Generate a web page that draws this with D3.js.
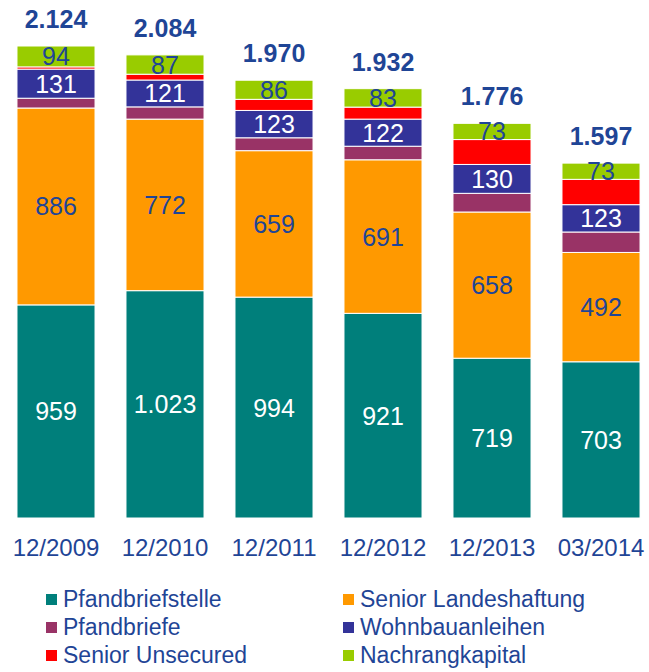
<!DOCTYPE html>
<html>
<head>
<meta charset="utf-8">
<script src="https://cdn.jsdelivr.net/npm/d3@7"></script>
<style>
	body { margin: 0; background: #fff; }
	text { font-family: "Liberation Sans", Arial, sans-serif; }
</style>
</head>
<body>
<script>

// Categories (x axis)
var categories = ["12/2009", "12/2010", "12/2011", "12/2012", "12/2013", "03/2014"];

// Series values, bottom to top of the stack
var pfandbriefstelle    = [959, 1023, 994, 921, 719, 703];
var seniorLandeshaftung = [886, 772, 659, 691, 658, 492];
var pfandbriefe         = [44, 55, 58, 61, 84, 92];
var wohnbauanleihen     = [131, 121, 123, 122, 130, 123];
var seniorUnsecured     = [10, 26, 50, 54, 112, 114];
var nachrangkapital     = [94, 87, 86, 83, 73, 73];

var seriesNames = ["Pfandbriefstelle", "Senior Landeshaftung", "Pfandbriefe",
	"Wohnbauanleihen", "Senior Unsecured", "Nachrangkapital"];
var seriesValues = [pfandbriefstelle, seniorLandeshaftung, pfandbriefe,
	wohnbauanleihen, seniorUnsecured, nachrangkapital];

// legend layout order (two columns)
var legendOrder = ["Pfandbriefstelle", "Senior Landeshaftung", "Pfandbriefe",
	"Wohnbauanleihen", "Senior Unsecured", "Nachrangkapital"];


const width = 649;
const height = 672;
const TEXT_BLUE = "#1f4596";

var colors = {
	"Pfandbriefstelle": "#007f7b",
	"Senior Landeshaftung": "#ff9900",
	"Pfandbriefe": "#993366",
	"Wohnbauanleihen": "#333399",
	"Senior Unsecured": "#ff0000",
	"Nachrangkapital": "#99cc00"
};

// which segments get a value label and in which colour
var labelColors = {
	"Pfandbriefstelle": "#ffffff",
	"Senior Landeshaftung": TEXT_BLUE,
	"Wohnbauanleihen": "#ffffff",
	"Nachrangkapital": TEXT_BLUE
};

var de = d3.formatLocale({ decimal: ",", thousands: ".", grouping: [3], currency: ["", " €"] });
var fmt = de.format(",d");

// build table for d3.stack
var table = categories.map(function(c, i) {
	var row = { category: c };
	seriesNames.forEach(function(name, k) { row[name] = seriesValues[k][i]; });
	return row;
});

var stacked = d3.stack().keys(seriesNames)(table);

var svg = d3.select("body")
	.append("svg")
	.attr("width", width)
	.attr("height", height);

var xScale = d3.scaleBand()
	.domain(categories)
	.range([1.5, 655.5])
	.paddingInner(0.284)
	.paddingOuter(0.142);

var yScale = d3.scaleLinear()
	.domain([0, 2124])
	.range([518, 46]);

// bars
var layers = svg.append("g").classed("bars", true)
	.selectAll("g.layer")
	.data(stacked)
	.enter().append("g")
	.classed("layer", true)
	.attr("fill", d => colors[d.key]);

layers.selectAll("rect")
	.data(d => d)
	.enter().append("rect")
	.attr("x", d => xScale(d.data.category))
	.attr("width", xScale.bandwidth())
	.attr("y", d => yScale(d[1]))
	.attr("height", d => yScale(d[0]) - yScale(d[1]))
	.attr("stroke", "#ffffff")
	.attr("stroke-width", 1);

// segment labels
stacked.forEach(function(layer) {
	if (!labelColors.hasOwnProperty(layer.key)) return;
	svg.append("g").selectAll("text")
		.data(layer)
		.enter().append("text")
		.attr("x", d => xScale(d.data.category) + xScale.bandwidth() / 2)
		.attr("y", d => (yScale(d[0]) + yScale(d[1])) / 2)
		.attr("dy", "0.36em")
		.attr("text-anchor", "middle")
		.attr("font-size", 25)
		.attr("fill", labelColors[layer.key])
		.text(d => fmt(d[1] - d[0]));
});

// totals above the bars
var topLayer = stacked[stacked.length - 1];
svg.append("g").classed("totals", true).selectAll("text")
	.data(topLayer)
	.enter().append("text")
	.attr("x", d => xScale(d.data.category) + xScale.bandwidth() / 2)
	.attr("y", d => yScale(d[1]) - 18)
	.attr("text-anchor", "middle")
	.attr("font-size", 25)
	.attr("font-weight", "bold")
	.attr("fill", TEXT_BLUE)
	.text(d => fmt(d[1]));

// x axis labels
var xAxis = d3.axisBottom(xScale).tickSize(0).tickPadding(0);
var xAxisGroup = svg.append("g")
	.attr("transform", "translate(0,538)")
	.call(xAxis);
xAxisGroup.select(".domain").remove();
xAxisGroup.selectAll("text")
	.attr("font-size", 24)
	.attr("font-family", "'Liberation Sans', Arial, sans-serif")
	.attr("fill", TEXT_BLUE)
	.attr("dy", "0.76em");

// legend
var legend = svg.append("g").classed("legend", true);
legendOrder.forEach(function(name, i) {
	var col = i % 2;
	var row = Math.floor(i / 2);
	var g = legend.append("g")
		.attr("transform", `translate(${col === 0 ? 46 : 343},${607 + row * 28})`);
	g.append("rect")
		.attr("x", 0)
		.attr("y", -13)
		.attr("width", 11)
		.attr("height", 11)
		.attr("fill", colors[name]);
	g.append("text")
		.attr("x", 17)
		.attr("y", 0)
		.attr("font-size", 23)
		.attr("fill", TEXT_BLUE)
		.text(name);
});

</script>
</body>
</html>
